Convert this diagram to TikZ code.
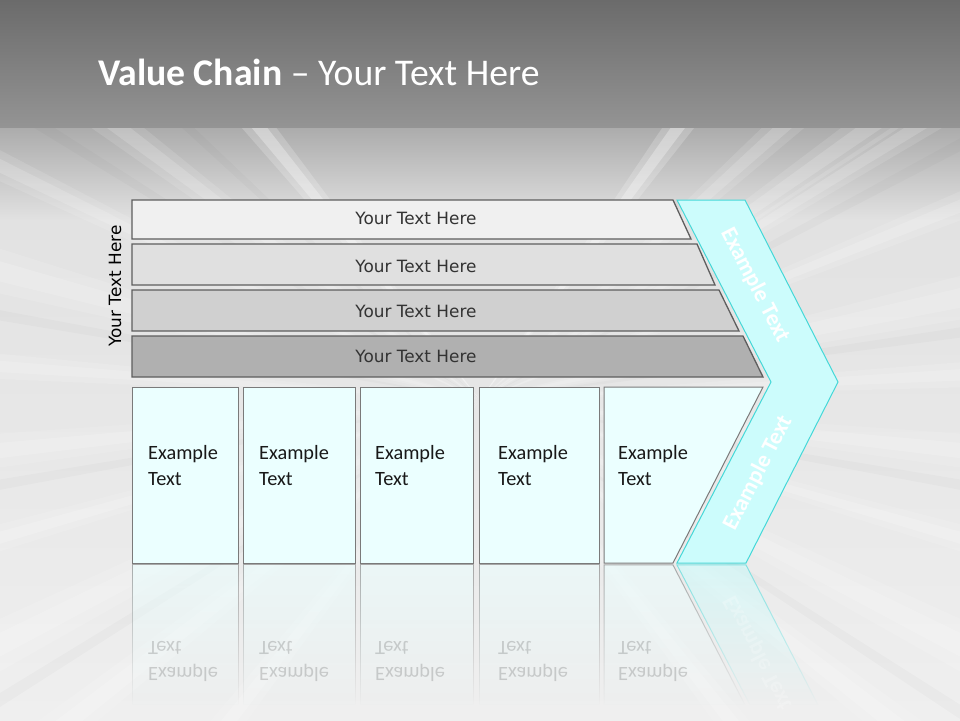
\documentclass[tikz,border=0pt]{standalone}
\usepackage{fontspec}
\setmainfont{Carlito}
\newfontfamily\dejavu{DejaVu Sans}
\usetikzlibrary{fadings}
\definecolor{hdTop}{HTML}{6B6B6B}
\definecolor{hdBot}{HTML}{949494}
\definecolor{bgTop}{HTML}{ABABAB}
\definecolor{bgMid}{HTML}{E2E2E2}
\definecolor{bgBot}{HTML}{EFEFEF}
\definecolor{barA}{HTML}{F0F0F0}
\definecolor{barB}{HTML}{E0E0E0}
\definecolor{barC}{HTML}{D0D0D0}
\definecolor{barD}{HTML}{B0B0B0}
\definecolor{barline}{HTML}{5E5E5E}
\definecolor{bartext}{HTML}{333333}
\definecolor{chevfill}{HTML}{CCFCFC}
\definecolor{chevline}{HTML}{44D8D8}
\definecolor{boxfill}{HTML}{EBFFFF}
\definecolor{boxline}{HTML}{7A7A7A}
\tikzfading[name=reflfade, top color=transparent!40, bottom color=transparent!100]
\begin{document}
\begin{tikzpicture}[x=1pt,y=-1pt,
  barshape/.style={draw=barline, line width=1.3pt},
  bartxt/.style={anchor=base, text=bartext, inner sep=0pt, font=\dejavu\fontsize{16.9}{20}\selectfont},
  chevshape/.style={fill=chevfill, draw=chevline, line width=1pt},
  chevtxt/.style={text=white, inner sep=0pt, font=\bfseries\fontsize{23}{27}\selectfont},
  boxshape/.style={fill=boxfill, draw=boxline, line width=1pt},
  boxtxt/.style={anchor=base west, inner sep=0pt, text=black!90, font=\fontsize{20.3}{26}\selectfont},
  reflbox/.style={fill=boxfill, draw=boxline, line width=1pt, path fading=reflfade},
  reflchev/.style={fill=chevfill, draw=chevline, line width=1pt, path fading=reflfade},
  refltxt/.style={transform shape, opacity=0.18}
]
\useasboundingbox (0,0) rectangle (960,720);
\clip (0,0) rectangle (960,720);
% background
\shade[top color=bgTop, bottom color=bgMid] (0,126) rectangle (960,221);
\shade[top color=bgMid, bottom color=bgBot] (0,220) rectangle (960,720);
\begin{scope}[shift={(480,400)}]
  \foreach \a/\w in {-35/2,-22/1.5,-12/2.5,-3/1.5,6/2,16/1.5,27/2.5,38/2,52/2,
                     128/2,142/2,153/2.5,164/1.5,174/2,184/1.5,195/2.5,206/1.5,217/2,
                     318/2,328/1.5} {
    \fill[white, opacity=0.12] (0,0) -- (\a-\w:1300) -- (\a+\w:1300) -- cycle;
    \fill[white, opacity=0.16] (0,0) -- (\a-0.45*\w:1300) -- (\a+0.45*\w:1300) -- cycle;
  }
  \foreach \a/\w in {231/2.2,306/2.2} {
    \fill[white, opacity=0.2] (0,0) -- (\a-\w:1300) -- (\a+\w:1300) -- cycle;
    \fill[white, opacity=0.3] (0,0) -- (\a-0.45*\w:1300) -- (\a+0.45*\w:1300) -- cycle;
  }
  \foreach \a in {-28,-8,10,33,148,170,190,212,223} {
    \fill[black, opacity=0.02] (0,0) -- (\a-0.6:1300) -- (\a+0.6:1300) -- cycle;
  }
\end{scope}
% header
\shade[top color=hdTop, bottom color=hdBot] (0,0) rectangle (960,127);
\node[anchor=base west, text=white, inner sep=0pt, font=\fontsize{37.7}{45}\selectfont] (title) at (98,85)
  {\textbf{Value Chain} – Your Text Here};
% reflections
\fill[reflbox] (132,565) rectangle (238,705);
\fill[reflbox] (243,565) rectangle (355,705);
\fill[reflbox] (360,565) rectangle (473,705);
\fill[reflbox] (479,565) rectangle (599,705);
\fill[reflbox] (604,565) -- (673,565) -- (745,705) -- (604,705) -- cycle;
\fill[reflchev] (677,565) -- (746,565) -- (818,705) -- (750,705) -- cycle;
\begin{scope}[shift={(0,1126)}, yscale=-1]
  \node[boxtxt, refltxt] (r1a) at (148,459) {Example};
  \node[boxtxt, refltxt] (r1b) at (148,485) {Text};
  \node[boxtxt, refltxt] (r2a) at (259,459) {Example};
  \node[boxtxt, refltxt] (r2b) at (259,485) {Text};
  \node[boxtxt, refltxt] (r3a) at (375,459) {Example};
  \node[boxtxt, refltxt] (r3b) at (375,485) {Text};
  \node[boxtxt, refltxt] (r4a) at (498,459) {Example};
  \node[boxtxt, refltxt] (r4b) at (498,485) {Text};
  \node[boxtxt, refltxt] (r5a) at (618,459) {Example};
  \node[boxtxt, refltxt] (r5b) at (618,485) {Text};
  \node[chevtxt, transform shape, rotate=62.7, opacity=0.22] (rchev) at (758,473) {Example Text};
\end{scope}
% bars
\path[barshape, fill=barA] (132,200) -- (673,200) -- (691,239) -- (132,239) -- cycle;
\path[barshape, fill=barB] (132,244) -- (697,244) -- (715,285) -- (132,285) -- cycle;
\path[barshape, fill=barC] (132,290) -- (719,290) -- (739,331) -- (132,331) -- cycle;
\path[barshape, fill=barD] (132,336) -- (743,336) -- (763,377) -- (132,377) -- cycle;
\node[bartxt] (bt1) at (416,224) {Your Text Here};
\node[bartxt] (bt2) at (416,272) {Your Text Here};
\node[bartxt] (bt3) at (416,317) {Your Text Here};
\node[bartxt] (bt4) at (416,362) {Your Text Here};
\node[anchor=base, rotate=90, inner sep=0pt, text=black, font=\dejavu\fontsize{16.9}{20}\selectfont] (side) at (121,286) {Your Text Here};
% chevron
\path[chevshape] (677,200) -- (745,200) -- (838,382) -- (746,563) -- (677,563) -- (771,382) -- cycle;
\node[chevtxt, rotate=-62.7] (ch1) at (755,285) {Example Text};
\node[chevtxt, rotate=62.7] (ch2) at (758,473) {Example Text};
% boxes
\path[boxshape] (132,387) rectangle (238,563);
\path[boxshape] (243,387) rectangle (355,563);
\path[boxshape] (360,387) rectangle (473,563);
\path[boxshape] (479,387) rectangle (599,563);
\path[boxshape] (604,387) -- (763,387) -- (673,563) -- (604,563) -- cycle;
\node[boxtxt] (b1a) at (148,459) {Example};
\node[boxtxt] (b1b) at (148,485) {Text};
\node[boxtxt] (b2a) at (259,459) {Example};
\node[boxtxt] (b2b) at (259,485) {Text};
\node[boxtxt] (b3a) at (375,459) {Example};
\node[boxtxt] (b3b) at (375,485) {Text};
\node[boxtxt] (b4a) at (498,459) {Example};
\node[boxtxt] (b4b) at (498,485) {Text};
\node[boxtxt] (b5a) at (618,459) {Example};
\node[boxtxt] (b5b) at (618,485) {Text};
\end{tikzpicture}
\end{document}
